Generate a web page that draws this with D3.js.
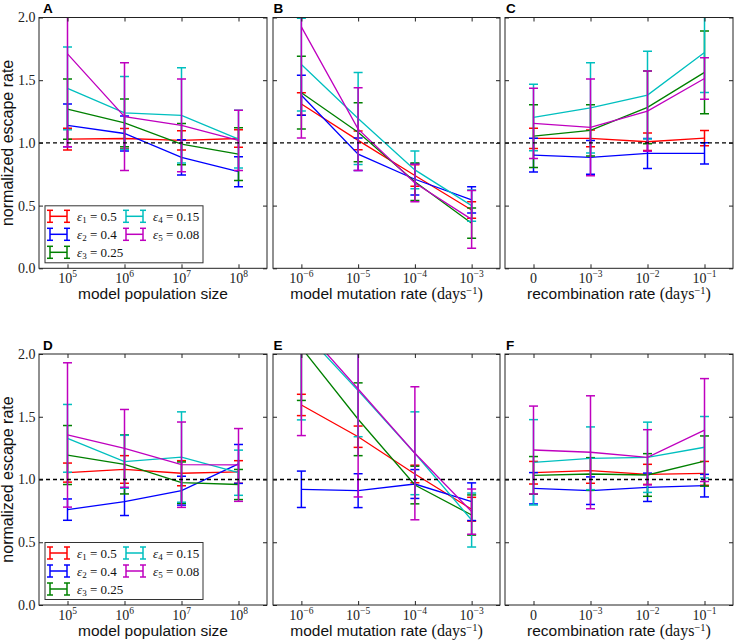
<!DOCTYPE html>
<html>
<head>
<meta charset="utf-8">
<script src="https://cdn.jsdelivr.net/npm/d3@7"></script>
<style>
  body { margin: 0; background: #fff; }
  svg { display: block; }
</style>
</head>
<body>
<svg id="fig" width="734" height="643"></svg>
<script>
/* ---------- Data ---------- */
const epsIndex = ["1", "2", "3", "4", "5"];
const epsValue = ["0.5", "0.4", "0.25", "0.15", "0.08"];
const colours = ["#ff0000", "#0000ff", "#008000", "#00bfbf", "#bf00bf"];
const yTicks = [0, 0.5, 1.0, 1.5, 2.0];

// tick labels: [base, exponent]
const popTicks = [["10", "5"], ["10", "6"], ["10", "7"], ["10", "8"]];
const mutTicks = [["10", "\u22126"], ["10", "\u22125"], ["10", "\u22124"], ["10", "\u22123"]];
const recTicks = [["0", ""], ["10", "\u22123"], ["10", "\u22122"], ["10", "\u22121"]];

// rows = eps1..eps5, columns = the four x categories
const meanA = [[1.03, 1.035, 1.02, 1.035], [1.14, 1.075, 0.885, 0.77], [1.27, 1.16, 0.99, 0.91], [1.435, 1.24, 1.22, 1.03], [1.71, 1.21, 1.14, 1.02]];
const errA  = [[0.087, 0.08, 0.076, 0.07], [0.17, 0.14, 0.14, 0.12], [0.24, 0.19, 0.165, 0.21], [0.33, 0.29, 0.38, 0.23], [0.74, 0.43, 0.37, 0.24]];

const meanB = [[1.31, 1.02, 0.74, 0.465], [1.38, 0.91, 0.71, 0.545], [1.40, 1.085, 0.69, 0.36], [1.625, 1.195, 0.785, 0.50], [1.925, 1.11, 0.68, 0.39]];
const errB  = [[0.09, 0.074, 0.085, 0.065], [0.16, 0.13, 0.125, 0.105], [0.29, 0.235, 0.15, 0.12], [0.37, 0.367, 0.15, 0.125], [0.885, 0.33, 0.15, 0.23]];

const meanC = [[1.036, 1.036, 1.009, 1.038], [0.903, 0.885, 0.916, 0.916], [1.054, 1.10, 1.283, 1.562], [1.203, 1.28, 1.381, 1.721], [1.155, 1.124, 1.253, 1.514]];
const errC  = [[0.08, 0.067, 0.07, 0.06], [0.135, 0.135, 0.12, 0.085], [0.25, 0.205, 0.29, 0.33], [0.265, 0.36, 0.35, 0.32], [0.28, 0.385, 0.32, 0.165]];

const meanD = [[1.055, 1.08, 1.05, 1.06], [0.76, 0.823, 0.911, 1.124], [1.195, 1.12, 0.975, 0.96], [1.328, 1.142, 1.179, 1.054], [1.355, 1.248, 1.118, 1.116]];
const errD  = [[0.076, 0.11, 0.1, 0.09], [0.085, 0.11, 0.115, 0.155], [0.235, 0.235, 0.165, 0.12], [0.27, 0.21, 0.36, 0.18], [0.575, 0.31, 0.34, 0.29]];

const meanE = [[1.594, 1.341, 1.044, 0.763], [0.922, 0.911, 0.964, 0.823], [2.05, 1.48, 0.956, 0.717], [2.195, 1.708, 1.209, 0.677], [2.23, 1.721, 1.209, 0.744]];
const errE  = [[0.085, 0.085, 0.07, 0.095], [0.145, 0.135, 0.115, 0.15], [0.42, 0.29, 0.15, 0.16], [0.72, 0.367, 0.33, 0.215], [0.88, 0.86, 0.53, 0.18]];

const meanF = [[1.054, 1.07, 1.041, 1.049], [0.93, 0.911, 0.938, 0.951], [1.033, 1.044, 1.036, 1.147], [1.137, 1.169, 1.177, 1.257], [1.235, 1.217, 1.177, 1.394]];
const errF  = [[0.09, 0.1, 0.08, 0.095], [0.125, 0.11, 0.113, 0.09], [0.15, 0.13, 0.17, 0.2], [0.34, 0.25, 0.28, 0.245], [0.35, 0.45, 0.22, 0.41]];

/* ---------- Layout ---------- */
const sansFont = "'Liberation Sans', Arial, sans-serif";
const serifFont = "'Liberation Serif', 'Times New Roman', serif";
const capHalf = 4.5;

const panels = [
    {letter: "A", mean: meanA, err: errA, ticks: popTicks, title: "model population size", unit: false,
     x0: 39, x1: 267, y0: 17.5, y1: 268.3, letterDx: 4, first: true},
    {letter: "B", mean: meanB, err: errB, ticks: mutTicks, title: "model mutation rate ", unit: true,
     x0: 273, x1: 500, y0: 17.5, y1: 268.3, letterDx: 0.5, first: false},
    {letter: "C", mean: meanC, err: errC, ticks: recTicks, title: "recombination rate ", unit: true,
     x0: 505, x1: 733, y0: 17.5, y1: 268.3, letterDx: 1, first: false},
    {letter: "D", mean: meanD, err: errD, ticks: popTicks, title: "model population size", unit: false,
     x0: 39, x1: 267, y0: 354, y1: 605, letterDx: 4, first: true},
    {letter: "E", mean: meanE, err: errE, ticks: mutTicks, title: "model mutation rate ", unit: true,
     x0: 273, x1: 500, y0: 354, y1: 605, letterDx: 0.5, first: false},
    {letter: "F", mean: meanF, err: errF, ticks: recTicks, title: "recombination rate ", unit: true,
     x0: 505, x1: 733, y0: 354, y1: 605, letterDx: 1, first: false}
];

var svg = d3.select("#fig");
var defs = svg.append("defs");

/**
 * draws one panel of the figure
 */
var drawPanel = function(p) {
    var g = svg.append("g").attr("id", "panel" + p.letter);
    var x = d3.scaleLinear().domain([-0.5, 3.5]).range([p.x0, p.x1]);
    var y = d3.scaleLinear().domain([0, 2]).range([p.y1, p.y0]);

    defs.append("clipPath").attr("id", "clip" + p.letter)
        .append("rect")
        .attr("x", p.x0).attr("y", p.y0)
        .attr("width", p.x1 - p.x0).attr("height", p.y1 - p.y0);

    var plot = g.append("g").attr("clip-path", "url(#clip" + p.letter + ")");

    /* ---------- error bars + lines ---------- */
    p.mean.forEach((row, s) => {
        var sg = plot.append("g").attr("stroke", colours[s]).attr("fill", "none");
        row.forEach((m, i) => {
            var e = p.err[s][i];
            var cx = x(i);
            sg.append("line")
                .attr("x1", cx).attr("x2", cx)
                .attr("y1", y(m - e)).attr("y2", y(m + e))
                .attr("stroke-width", 1.5);
            [m - e, m + e].forEach(v => {
                sg.append("line")
                    .attr("x1", cx - capHalf).attr("x2", cx + capHalf)
                    .attr("y1", y(v)).attr("y2", y(v))
                    .attr("stroke-width", 1.5);
            });
        });
        sg.append("path")
            .attr("d", d3.line().x((d, i) => x(i)).y(d => y(d))(row))
            .attr("stroke-width", 1.3);
    });

    // reference line at 1
    plot.append("line")
        .attr("x1", p.x0).attr("x2", p.x1)
        .attr("y1", y(1)).attr("y2", y(1))
        .attr("stroke", "#000")
        .attr("stroke-width", 1.3)
        .attr("stroke-dasharray", "4,3");

    /* ---------- ticks (inward, all four sides) ---------- */
    var xVals = [0, 1, 2, 3];
    var axes = [
        [d3.axisBottom(x).tickValues(xVals), "translate(0," + p.y1 + ")"],
        [d3.axisTop(x).tickValues(xVals), "translate(0," + p.y0 + ")"],
        [d3.axisRight(y).tickValues(yTicks), "translate(" + p.x1 + ",0)"]
    ];
    axes.forEach(a => {
        g.append("g").attr("transform", a[1])
            .call(a[0].tickSize(-4).tickFormat(""))
            .call(ax => ax.select(".domain").remove())
            .selectAll("line").attr("stroke", "#222");
    });
    var left = g.append("g").attr("transform", "translate(" + p.x0 + ",0)")
        .call(d3.axisLeft(y).tickValues(yTicks).tickSize(-4).tickPadding(3.5)
            .tickFormat(p.first ? d3.format(".1f") : ""));
    left.select(".domain").remove();
    left.selectAll("line").attr("stroke", "#222");
    left.selectAll("text")
        .attr("font-family", serifFont)
        .attr("font-size", 14)
        .attr("fill", "#222");

    // frame
    g.append("rect")
        .attr("x", p.x0).attr("y", p.y0)
        .attr("width", p.x1 - p.x0).attr("height", p.y1 - p.y0)
        .attr("fill", "none")
        .attr("stroke", "#222")
        .attr("stroke-width", 1);

    /* ---------- x tick labels ---------- */
    p.ticks.forEach((t, i) => {
        var txt = g.append("text")
            .attr("x", x(i)).attr("y", p.y1 + 14.5)
            .attr("text-anchor", "middle")
            .attr("font-family", serifFont)
            .attr("font-size", 14)
            .attr("fill", "#222");
        txt.append("tspan").text(t[0]);
        if (t[1] !== "") {
            txt.append("tspan").attr("dy", -5.5).attr("font-size", 9.5).text(t[1]);
        }
    });

    /* ---------- axis titles ---------- */
    var title = g.append("text")
        .attr("x", (p.x0 + p.x1) / 2).attr("y", p.y1 + 30.5)
        .attr("text-anchor", "middle")
        .attr("font-family", sansFont)
        .attr("font-size", 15.5)
        .attr("fill", "#111");
    title.append("tspan").text(p.title);
    if (p.unit) {
        title.append("tspan").attr("font-family", serifFont).attr("font-size", 16).text("(days");
        title.append("tspan").attr("font-family", serifFont).attr("font-size", 10.5).attr("dy", -5).text("\u22121");
        title.append("tspan").attr("font-family", serifFont).attr("font-size", 16).attr("dy", 5).text(")");
    }
    if (p.first) {
        g.append("text")
            .attr("transform", "translate(13," + (p.y0 + p.y1) / 2 + ") rotate(-90)")
            .attr("text-anchor", "middle")
            .attr("font-family", sansFont)
            .attr("font-size", 16)
            .attr("fill", "#111")
            .text("normalized escape rate");
    }

    // panel letter
    g.append("text")
        .attr("x", p.x0 + p.letterDx).attr("y", p.y0 - 4.5)
        .attr("font-family", sansFont)
        .attr("font-weight", "bold")
        .attr("font-size", 13.5)
        .attr("fill", "#000")
        .text(p.letter);

    if (p.first) drawLegend(g, p.x0 + 6, p.y1 - 62.5);
};

/**
 * legend with errorbar handles (two error bars per handle)
 */
var drawLegend = function(g, bx, by) {
    var lg = g.append("g");
    lg.append("rect")
        .attr("x", bx).attr("y", by)
        .attr("width", 158).attr("height", 57)
        .attr("fill", "#fff")
        .attr("stroke", "#333")
        .attr("stroke-width", 1);
    var rows = [10.5, 28.5, 46.5];
    epsIndex.forEach((idx, s) => {
        var col = s < 3 ? 0 : 1;
        var row = s < 3 ? s : s - 3;
        var hx = bx + 5 + col * 76;
        var hy = by + rows[row];
        var h = lg.append("g").attr("stroke", colours[s]).attr("stroke-width", 1.5);
        h.append("line").attr("x1", hx).attr("x2", hx + 17).attr("y1", hy).attr("y2", hy);
        [hx, hx + 17].forEach(vx => {
            h.append("line").attr("x1", vx).attr("x2", vx).attr("y1", hy - 6).attr("y2", hy + 6);
            [hy - 6, hy + 6].forEach(vy => {
                h.append("line").attr("x1", vx - 3).attr("x2", vx + 3).attr("y1", vy).attr("y2", vy);
            });
        });
        var t = lg.append("text")
            .attr("x", hx + 27).attr("y", hy + 4.5)
            .attr("font-family", serifFont)
            .attr("font-size", 13)
            .attr("fill", "#111");
        t.append("tspan").attr("font-style", "italic").text("\u03b5");
        t.append("tspan").attr("font-size", 9).attr("dy", 2.5).text(idx);
        t.append("tspan").attr("dy", -2.5).text(" = " + epsValue[s]);
    });
};

panels.forEach(p => drawPanel(p));
</script>
</body>
</html>
